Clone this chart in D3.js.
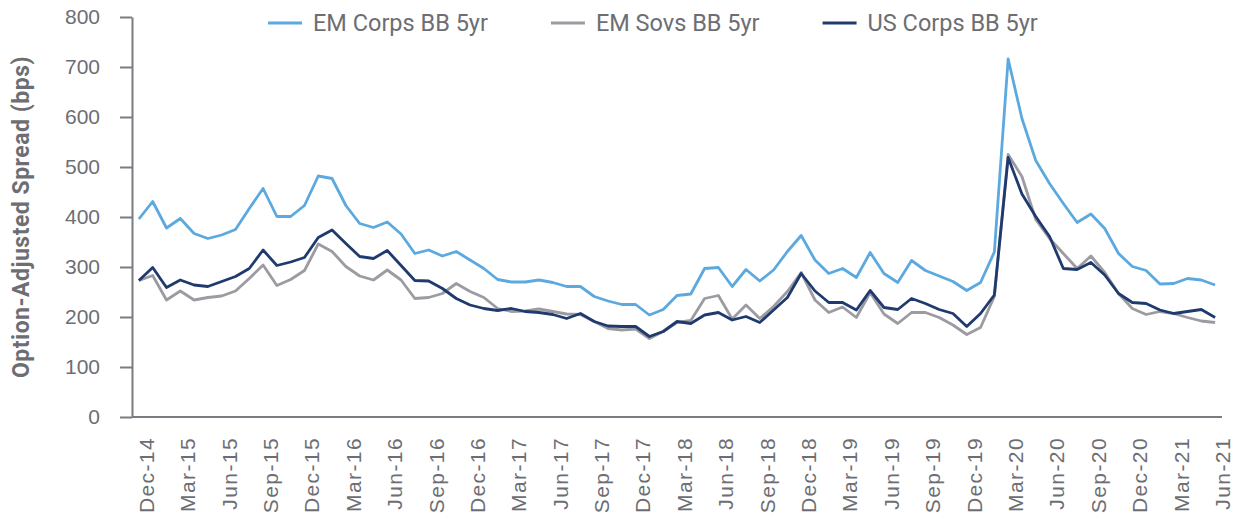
<!DOCTYPE html>
<html>
<head>
<meta charset="utf-8">
<script src="https://cdn.jsdelivr.net/npm/d3@7"></script>
<style>
	body { margin: 0; background: #fff; }
	svg { display: block; font-family: Roboto, 'Open Sans', sans-serif; }
	.axis path, .axis line { stroke: #7b7b82; stroke-width: 2; }
	.axis text { fill: #6d6e73; }
</style>
</head>
<body>
<svg id="chart"></svg>
<script>
// monthly observations, Dec-14 .. Jun-21
const startMonth = new Date(Date.UTC(2014, 11, 1))
const endMonth = new Date(Date.UTC(2021, 6, 1))

const emCorps = [396, 431, 378, 397, 367, 357, 364, 375, 417, 457, 401, 401, 423, 482, 477, 423, 387, 379, 390, 366,
	327, 334, 322, 331, 314, 297, 275, 270, 270, 274, 269, 261, 261, 241, 232, 225, 225, 204, 215, 243,
	246, 297, 299, 261, 295, 272, 294, 331, 363, 314, 287, 297, 279, 329, 287, 269, 313, 293, 282, 271,
	253, 269, 330, 716, 597, 513, 467, 427, 389, 406, 377, 327, 301, 293, 266, 267, 277, 274, 264]

const emSovs = [273, 283, 234, 252, 234, 239, 242, 252, 277, 304, 263, 275, 293, 346, 331, 301, 282, 274, 294, 274,
	237, 239, 247, 267, 251, 239, 217, 211, 212, 216, 211, 206, 205, 191, 177, 174, 176, 157, 171, 189,
	193, 237, 243, 196, 224, 197, 221, 251, 289, 234, 209, 220, 199, 249, 206, 187, 209, 209, 199, 184,
	165, 179, 241, 525, 481, 395, 357, 327, 297, 322, 289, 247, 217, 205, 211, 207, 199, 192, 189]

const usCorps = [273, 299, 259, 274, 264, 261, 271, 281, 297, 334, 303, 310, 319, 359, 374, 347, 321, 317, 333, 303,
	273, 272, 257, 237, 224, 217, 213, 217, 211, 209, 205, 197, 207, 191, 182, 181, 181, 161, 171, 191,
	187, 204, 209, 194, 201, 189, 214, 239, 287, 252, 229, 229, 214, 253, 219, 215, 237, 227, 215, 207,
	181, 207, 244, 519, 446, 401, 361, 297, 295, 309, 284, 247, 229, 227, 214, 207, 211, 215, 199]

const seriesNames = ['EM Corps BB 5yr', 'EM Sovs BB 5yr', 'US Corps BB 5yr']
const seriesColors = ['#5ba9de', '#9b9ba1', '#1f3a6f']

const tickLabels = ['Dec-14', 'Mar-15', 'Jun-15', 'Sep-15', 'Dec-15', 'Mar-16', 'Jun-16', 'Sep-16', 'Dec-16',
	'Mar-17', 'Jun-17', 'Sep-17', 'Dec-17', 'Mar-18', 'Jun-18', 'Sep-18', 'Dec-18', 'Mar-19', 'Jun-19',
	'Sep-19', 'Dec-19', 'Mar-20', 'Jun-20', 'Sep-20', 'Dec-20', 'Mar-21', 'Jun-21']

const yTicks = [0, 100, 200, 300, 400, 500, 600, 700, 800]

const months = d3.utcMonth.range(startMonth, endMonth)
const fmt = d3.utcFormat('%b-%y')
const categories = months.map(fmt)

const series = [emCorps, emSovs, usCorps].map((values, i) => ({
	name: seriesNames[i],
	color: seriesColors[i],
	values,
}))

// dimensions
const outerWidth = 1244
const outerHeight = 514
const margin = { top: 17, right: 22, bottom: 97, left: 132 }
const width = outerWidth - margin.left - margin.right
const height = outerHeight - margin.top - margin.bottom

const svg = d3.select('#chart')
	.attr('width', outerWidth)
	.attr('height', outerHeight)
.append('g')
	.attr('transform', `translate(${margin.left}, ${margin.top})`)

const x = d3.scalePoint()
	.domain(categories)
	.range([0, width])
	.padding(0.5)

const y = d3.scaleLinear()
	.domain([0, 800])
	.range([height, 0])

// y axis
const yAxis = svg.append('g')
	.attr('class', 'axis axis--y')
	.call(d3.axisLeft(y)
		.tickValues(yTicks)
		.tickSize(12)
		.tickSizeOuter(0)
		.tickPadding(20)
	)
yAxis.selectAll('text')
	.style('font-size', '21px')

// x axis: just a baseline with rotated labels every quarter
const xAxis = svg.append('g')
	.attr('class', 'axis axis--x')
	.attr('transform', `translate(0, ${height})`)
	.call(d3.axisBottom(x)
		.tickValues(tickLabels)
		.tickSize(0)
		.tickSizeOuter(0)
	)
xAxis.select('.domain')
	.attr('d', `M0,0H${width}`)
xAxis.selectAll('text')
	.attr('transform', d => 'translate(7, 20) rotate(-90)')
	.attr('x', 0)
	.attr('y', 0)
	.attr('dy', '0.35em')
	.style('text-anchor', 'end')
	.style('font-size', '21px')
	.style('letter-spacing', '1.4px')

// axis title
svg.append('text')
	.attr('transform', `translate(${29 - margin.left}, ${y(400)}) rotate(-90)`)
	.attr('text-anchor', 'middle')
	.style('font-size', '23px')
	.style('font-weight', 'bold')
	.style('letter-spacing', '0.5px')
	.style('fill', '#6d6e73')
	.text('Option-Adjusted Spread (bps)')

// lines
const line = d3.line()
	.x((d, i) => x(categories[i]))
	.y(d => y(d))

svg.selectAll('.series')
	.data(series)
	.join('path')
	.attr('class', 'series')
	.attr('fill', 'none')
	.attr('stroke', d => d.color)
	.attr('stroke-width', 2.8)
	.attr('stroke-linejoin', 'round')
	.attr('d', d => line(d.values))

// legend
const legend = d3.select('#chart').append('g')
	.attr('transform', 'translate(268, 23)')
let lx = 0
series.forEach(s => {
	const item = legend.append('g').attr('transform', `translate(${lx}, 0)`)
	item.append('line')
		.attr('x1', 0)
		.attr('x2', 34)
		.attr('stroke', s.color)
		.attr('stroke-width', 3)
	const t = item.append('text')
		.attr('x', 45)
		.attr('dy', '0.35em')
		.style('font-size', '23.5px')
		.style('fill', '#6d6e73')
		.text(s.name)
	lx += 45 + t.node().getComputedTextLength() + 63
})
</script>
</body>
</html>
